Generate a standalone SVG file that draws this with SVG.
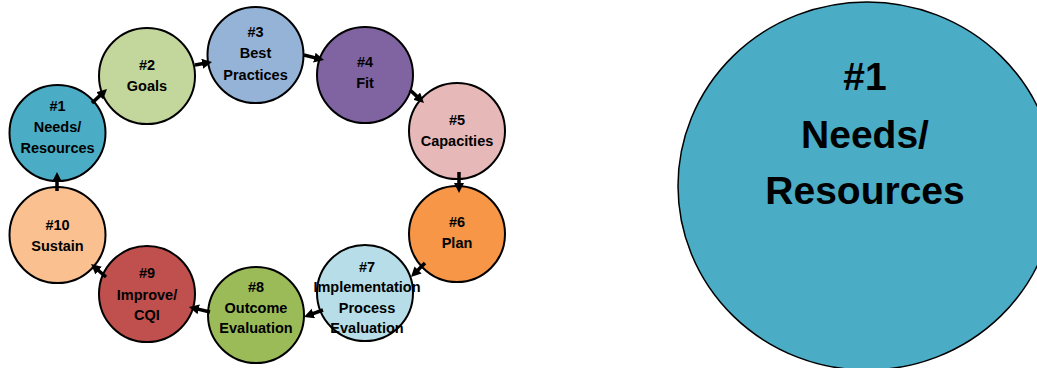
<svg xmlns="http://www.w3.org/2000/svg" width="1037" height="368" viewBox="0 0 1037 368">
<defs>
<style>
.n{stroke:#000;stroke-width:2}
.t{font-family:"Liberation Sans",Arial,sans-serif;font-weight:bold;font-size:14.5px;fill:#000;text-anchor:middle}
.big{font-family:"Liberation Sans",Arial,sans-serif;font-weight:bold;font-size:39px;fill:#000;text-anchor:middle}
.c{stroke:#000;stroke-width:3.5;fill:none;marker-end:url(#ah)}
</style>
<marker id="ah" markerUnits="userSpaceOnUse" markerWidth="11" markerHeight="11" refX="4" refY="5" orient="auto">
<path d="M0,0 L10,5 L0,10 z" fill="#000"/>
</marker>
</defs>
<rect width="1037" height="368" fill="#fff"/>
<g id="node1"><circle class="n" cx="57.5" cy="133" r="48" fill="#4BACC6"/><text class="t" x="57.5"><tspan x="57.5" y="111">#1</tspan><tspan x="57.5" y="132">Needs/</tspan><tspan x="57.5" y="153">Resources</tspan></text></g>
<g id="node2"><circle class="n" cx="147" cy="76" r="48" fill="#C3D69B"/><text class="t"><tspan x="147" y="70">#2</tspan><tspan x="147" y="91">Goals</tspan></text></g>
<g id="node3"><circle class="n" cx="255.5" cy="55" r="48" fill="#95B3D7"/><text class="t"><tspan x="255.5" y="37">#3</tspan><tspan x="255.5" y="58">Best</tspan><tspan x="255.5" y="80">Practices</tspan></text></g>
<g id="node4"><circle class="n" cx="365" cy="75" r="48" fill="#8064A2"/><text class="t"><tspan x="365" y="67">#4</tspan><tspan x="365" y="88">Fit</tspan></text></g>
<g id="node5"><circle class="n" cx="457" cy="131" r="48" fill="#E6B9B8"/><text class="t"><tspan x="457" y="125">#5</tspan><tspan x="457" y="146">Capacities</tspan></text></g>
<g id="node6"><circle class="n" cx="457" cy="234" r="48" fill="#F79646"/><text class="t"><tspan x="457" y="227">#6</tspan><tspan x="457" y="248">Plan</tspan></text></g>
<g id="node7"><circle class="n" cx="365" cy="293" r="48" fill="#B7DEE8"/><text class="t"><tspan x="367" y="272">#7</tspan><tspan x="367" y="292">Implementation</tspan><tspan x="367" y="313">Process</tspan><tspan x="367" y="333">Evaluation</tspan></text></g>
<g id="node8"><circle class="n" cx="256" cy="315" r="48" fill="#9BBB59"/><text class="t"><tspan x="256" y="292">#8</tspan><tspan x="256" y="313">Outcome</tspan><tspan x="256" y="333">Evaluation</tspan></text></g>
<g id="node9"><circle class="n" cx="147" cy="294" r="48" fill="#C0504D"/><text class="t"><tspan x="147" y="278">#9</tspan><tspan x="147" y="300">Improve/</tspan><tspan x="147" y="320">CQI</tspan></text></g>
<g id="node10"><circle class="n" cx="57.5" cy="235" r="48" fill="#FAC090"/><text class="t"><tspan x="57.5" y="230">#10</tspan><tspan x="57.5" y="251">Sustain</tspan></text></g>
<g id="bignode"><ellipse cx="867" cy="186" rx="189" ry="184" fill="#4BACC6" stroke="#000" stroke-width="1.5"/><text class="big"><tspan x="865" y="90">#1</tspan><tspan x="865" y="148">Needs/</tspan><tspan x="865" y="204">Resources</tspan></text></g>
<g id="connectors">
<path class="c" d="M92,103 L102.6,93.1"/>
<path class="c" d="M195,65 L206.1,63"/>
<path class="c" d="M304,55 L318.2,58.6"/>
<path class="c" d="M410,90 L419.6,98.9"/>
<path class="c" d="M459,172 L459,187"/>
<path class="c" d="M425,263 L415.2,272.8"/>
<path class="c" d="M323,310 L309.6,314.9"/>
<path class="c" d="M210,312 L194.8,308.4"/>
<path class="c" d="M106,277 L95.6,268"/>
<path class="c" d="M57,191 L57,178"/>
</g>
</svg>
